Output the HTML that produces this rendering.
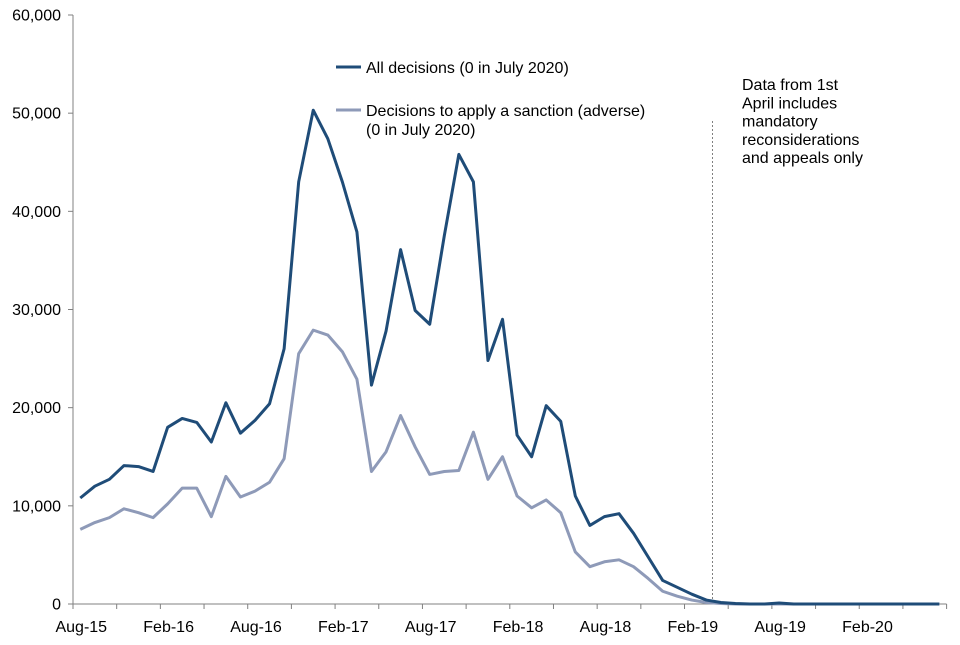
<!DOCTYPE html>
<html><head><meta charset="utf-8"><style>
body{margin:0;background:#fff;font-family:"Liberation Sans",Arial,sans-serif}
svg text{font-family:"Liberation Sans",Arial,sans-serif;fill:#000}
</style></head><body>
<svg id="chart" width="960" height="640" viewBox="0 0 960 640" xmlns="http://www.w3.org/2000/svg"></svg>
<script>
const categories=["Aug-15","Sep-15","Oct-15","Nov-15","Dec-15","Jan-16","Feb-16","Mar-16","Apr-16","May-16","Jun-16","Jul-16","Aug-16","Sep-16","Oct-16","Nov-16","Dec-16","Jan-17","Feb-17","Mar-17","Apr-17","May-17","Jun-17","Jul-17","Aug-17","Sep-17","Oct-17","Nov-17","Dec-17","Jan-18","Feb-18","Mar-18","Apr-18","May-18","Jun-18","Jul-18","Aug-18","Sep-18","Oct-18","Nov-18","Dec-18","Jan-19","Feb-19","Mar-19","Apr-19","May-19","Jun-19","Jul-19","Aug-19","Sep-19","Oct-19","Nov-19","Dec-19","Jan-20","Feb-20","Mar-20","Apr-20","May-20","Jun-20","Jul-20"];
const allDecisions=[10800,12000,12700,14100,14000,13500,18000,18900,18500,16500,20500,17400,18700,20400,26000,43000,50300,47400,43000,37900,22300,27800,36100,29900,28500,37500,45800,43000,24800,29000,17200,15000,20200,18600,11000,8000,8900,9200,7200,4800,2400,1700,1000,400,150,50,0,0,100,0,0,0,0,0,0,0,0,0,0,0];
const adverse=[7600,8300,8800,9700,9300,8800,10200,11800,11800,8900,13000,10900,11500,12400,14800,25500,27900,27400,25700,22900,13500,15500,19200,16000,13200,13500,13600,17500,12700,15000,11000,9800,10600,9300,5300,3800,4300,4500,3800,2600,1300,800,400,150,50,0,0,0,0,0,0,0,0,0,0,0,0,0,0,0];
const yTicks=[0,10000,20000,30000,40000,50000,60000];
const xLabelEvery=6;

const svg=document.getElementById('chart');
const NS='http://www.w3.org/2000/svg';
const X0=73,Y0=604,YTOP=15,YMAX=60000;
const bw=14.56;
const XEND=X0+bw*categories.length;
const xScale=i=>X0+bw*(i+0.5);
const yScale=v=>Y0-(v/YMAX)*(Y0-YTOP);
function mk(tag,attrs,parent){const e=document.createElementNS(NS,tag);for(const k in attrs)e.setAttribute(k,attrs[k]);(parent||svg).appendChild(e);return e;}

const axes=mk('g',{});


mk('line',{x1:X0,y1:YTOP,x2:X0,y2:Y0,stroke:'#808080','stroke-width':1},axes);
mk('line',{x1:X0,y1:Y0,x2:XEND,y2:Y0,stroke:'#808080','stroke-width':1},axes);
yTicks.forEach(v=>{
  const y=yScale(v);
  const t=mk('line',{x1:X0-5,y1:y,x2:X0,y2:y,stroke:'#808080'},axes);
  
  
  const l=mk('text',{x:X0-12,y:y+5.5,'text-anchor':'end','font-size':16},axes);
  l.textContent=v.toLocaleString('en-GB');
  
  
});
for(let i=0;i<=categories.length;i+=3){
  const x=X0+bw*i;
  const t=mk('line',{x1:x,y1:Y0,x2:x,y2:Y0+5,stroke:'#808080'},axes);
  
  
}
categories.forEach((c,i)=>{
  if(i%xLabelEvery!==0)return;
  const l=mk('text',{x:xScale(i)+1,y:Y0+28,'text-anchor':'middle','font-size':16},axes);
  l.textContent=c;
  
  
});

const divider=mk('line',{x1:712.5,y1:121,x2:712.5,y2:Y0,stroke:'#808080','stroke-width':1,'stroke-dasharray':'2,2'});



function series(data,color,name){
  const p=mk('polyline',{points:data.map((v,i)=>xScale(i)+','+yScale(v)).join(' '),fill:'none',stroke:color,'stroke-width':3,'stroke-linejoin':'round'});
  
  
}
series(adverse,'#8e9ab8','adverse-sanctions-line');
series(allDecisions,'#1f4c78','all-decisions-line');

const lg=mk('g',{});


const e1=mk('g',{},lg);


mk('line',{x1:336,y1:67,x2:361,y2:67,stroke:'#1f4c78','stroke-width':3},e1);
const t1=mk('text',{x:366,y:73,'font-size':16},e1);t1.textContent='All decisions (0 in July 2020)';
const e2=mk('g',{},lg);


mk('line',{x1:336,y1:110,x2:361,y2:110,stroke:'#8e9ab8','stroke-width':3},e2);
const t2=mk('text',{x:366,y:116,'font-size':16},e2);t2.textContent='Decisions to apply a sanction (adverse)';
const t3=mk('text',{x:366,y:135,'font-size':16},e2);t3.textContent='(0 in July 2020)';

const note=mk('g',{});


['Data from 1st','April includes','mandatory','reconsiderations','and appeals only'].forEach((s,i)=>{
  const t=mk('text',{x:742,y:90+i*18.3,'font-size':16},note);t.textContent=s;
});
</script>
</body></html>
